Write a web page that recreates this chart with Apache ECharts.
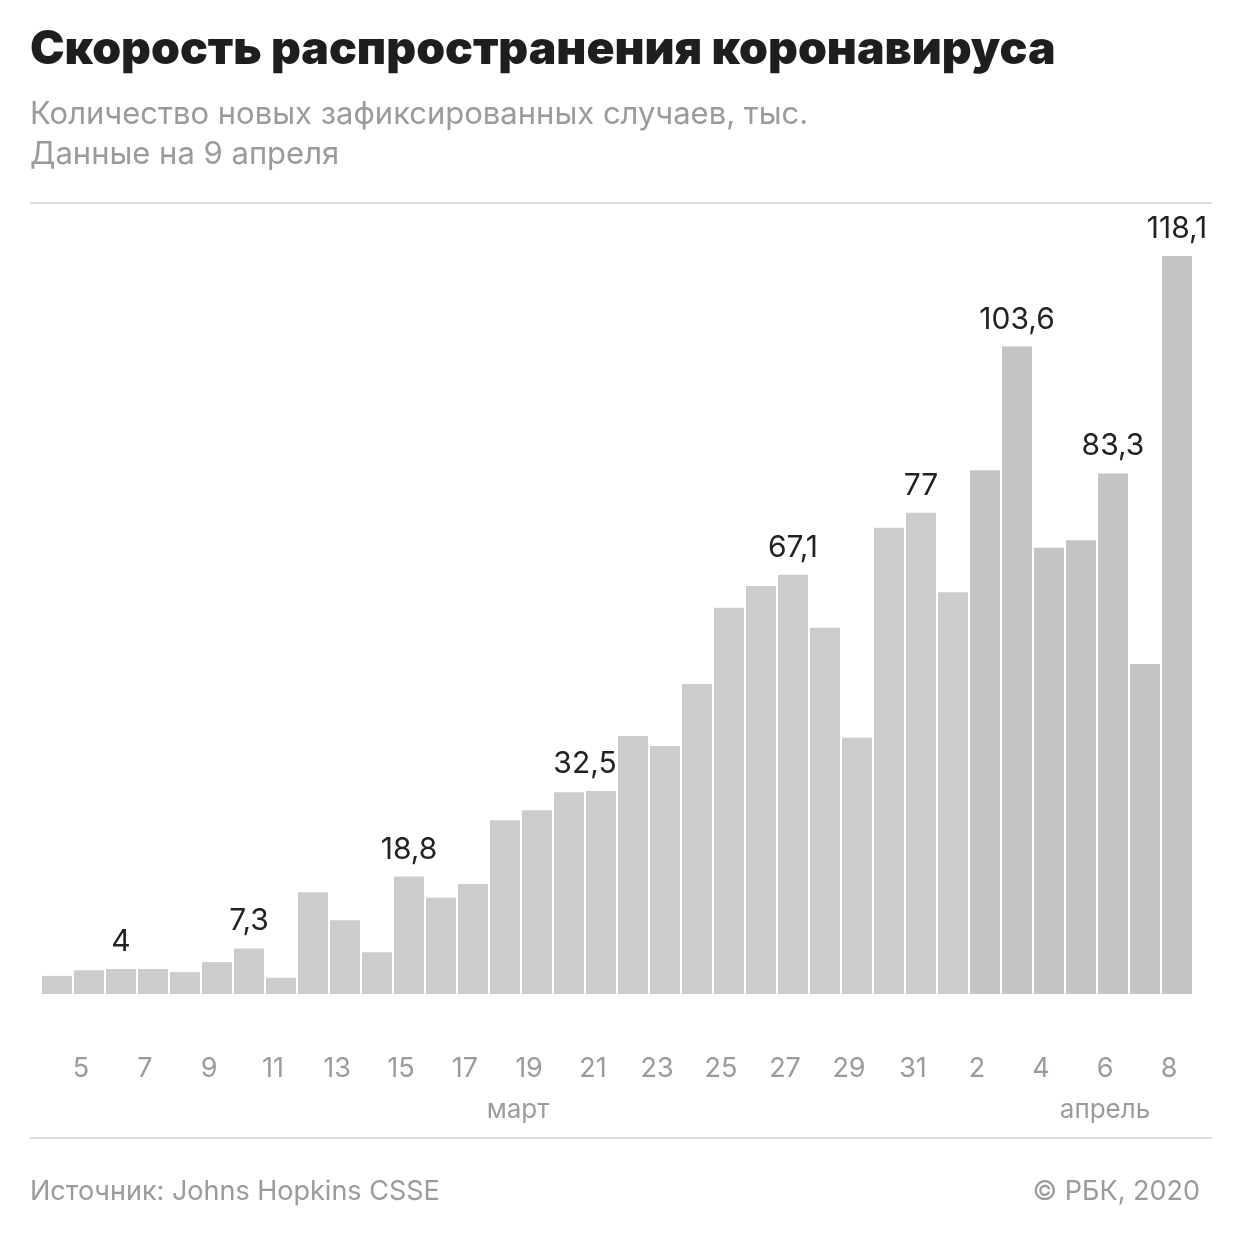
<!DOCTYPE html>
<html>
<head>
<meta charset="utf-8">
<script src="https://cdn.jsdelivr.net/npm/echarts@6/dist/echarts.min.js"></script>
<style>
html,body{margin:0;padding:0;background:#fff;}
#c{width:1240px;height:1240px;}
</style>
</head>
<body>
<div id="c"></div>
<script>
const days = ['4','5','6','7','8','9','10','11','12','13','14','15','16','17','18','19','20','21','22','23','24','25','26','27','28','29','30','31','1','2','3','4','5','6','7','8'];
const values = [2.9,3.8,4.0,4.0,3.5,5.1,7.3,2.6,16.3,11.8,6.7,18.8,15.4,17.6,27.8,29.4,32.3,32.5,41.3,39.7,49.6,61.8,65.3,67.1,58.6,41.0,74.6,77.0,64.3,83.8,103.6,71.4,72.6,83.3,52.8,118.1];
const labelledIdx = [2,6,11,17,23,27,30,33,35];
const months = ['март','апрель'];
const titleText = 'Скорость распространения коронавируса';
const subtitleLines = ['Количество новых зафиксированных случаев, тыс.','Данные на 9 апреля'];
const sourceText = 'Источник: Johns Hopkins CSSE';
const copyText = '© РБК, 2020';

const FONT = 'Inter, Roboto, sans-serif';
const chart = echarts.init(document.getElementById('c'), null, {renderer:'canvas'});

const seriesData = values.map((v,i)=>({
  value: v,
  itemStyle: {color: i >= 29 ? '#c4c4c4' : '#cccccc'},
  label: {
    show: labelledIdx.includes(i),
    offset: i === 17 ? [-16,0] : [0,0]
  }
}));

chart.setOption({
  animation:false,
  backgroundColor:'#fff',
  title:[
    {text:titleText,left:30,top:27,padding:0,textStyle:{fontFamily:FONT,fontWeight:900,fontSize:46.3,color:'#1e1e1e'}},
    {text:subtitleLines[0],left:30,top:99,padding:0,textStyle:{fontFamily:FONT,fontWeight:400,fontSize:31,color:'#9b9b9b'}},
    {text:subtitleLines[1],left:30,top:139,padding:0,textStyle:{fontFamily:FONT,fontWeight:400,fontSize:31,color:'#9b9b9b'}},
    {text:sourceText,left:30,top:1178,padding:0,textStyle:{fontFamily:FONT,fontWeight:400,fontSize:27,color:'#9b9b9b'}},
    {text:copyText,right:40,top:1178,padding:0,textStyle:{fontFamily:FONT,fontWeight:400,fontSize:27,color:'#9b9b9b'}}
  ],
  graphic:[
    {type:'line',shape:{x1:30,y1:203,x2:1212,y2:203},style:{stroke:'#dcdcdc',lineWidth:2}},
    {type:'line',shape:{x1:30,y1:1138,x2:1212,y2:1138},style:{stroke:'#dcdcdc',lineWidth:2}},
    {type:'text',x:518,y:1110,style:{text:months[0],fill:'#9b9b9b',font:'400 26px '+FONT,textAlign:'center',textVerticalAlign:'middle'}},
    {type:'text',x:1105,y:1110,style:{text:months[1],fill:'#9b9b9b',font:'400 26px '+FONT,textAlign:'center',textVerticalAlign:'middle'}}
  ],
  grid:{left:41,right:47,top:244,bottom:246,containLabel:false},
  xAxis:{
    type:'category',
    data:days,
    axisLine:{show:false},
    axisTick:{show:false},
    axisLabel:{
      interval:(idx)=>idx%2===1,
      margin:61,
      color:'#9b9b9b',
      fontFamily:FONT,
      fontSize:27,
      padding:[0,16,0,0]
    }
  },
  yAxis:{
    type:'value',
    min:0,max:120,
    show:false,
    splitLine:{show:false}
  },
  series:[{
    type:'bar',
    data:seriesData,
    barWidth:30,
    label:{
      position:'top',
      distance:12,
      color:'#222',
      fontFamily:FONT,
      fontSize:30,
      formatter:(p)=>String(p.value).replace('.',',')
    }
  }]
});
</script>
</body>
</html>
